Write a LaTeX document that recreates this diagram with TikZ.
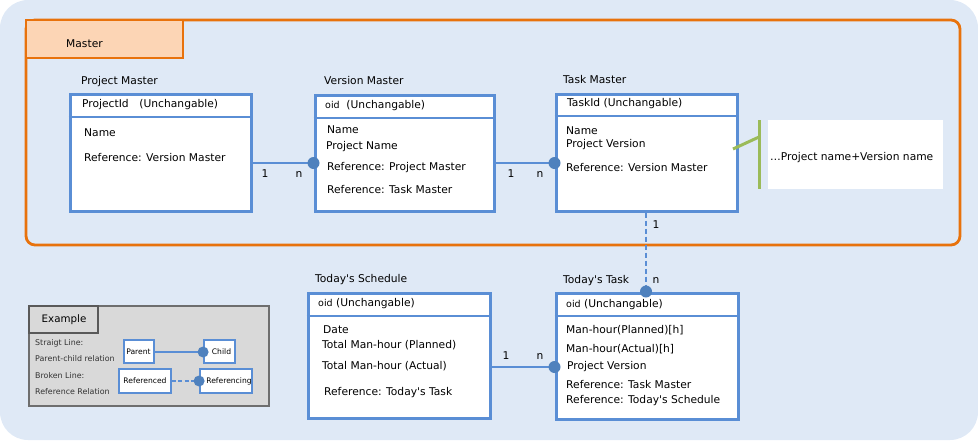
\documentclass[tikz,border=0pt]{standalone}
\usepackage{fontspec}
\setmainfont{DejaVu Sans}
\usetikzlibrary{fit}
\definecolor{bgc}{HTML}{DFE9F6}
\definecolor{bl}{HTML}{5A8ED5}
\definecolor{dotc}{HTML}{4F81BD}
\definecolor{org}{HTML}{E8720C}
\definecolor{peach}{HTML}{FCD5B5}
\definecolor{grn}{HTML}{9BBB59}
\definecolor{gry}{HTML}{D9D9D9}
\definecolor{gbord}{HTML}{6E6E6E}
\newcommand\apos{\textquotesingle}
\tikzset{
  entity/.style={draw=bl, fill=white, line width=3pt, inner sep=0pt},
  divline/.style={draw=bl, line width=2.8pt},
  rel/.style={draw=bl, line width=2.2pt},
  refrel/.style={draw=bl, line width=2.2pt, dash pattern=on 5pt off 3pt},
  reldot/.style={circle, fill=dotc, inner sep=0pt, minimum size=12pt},
  txt/.style={anchor=west, inner sep=0pt, font=\fontsize{10.7}{12}\selectfont},
  card/.style={inner sep=0pt, font=\fontsize{10.7}{12}\selectfont},
  small/.style={anchor=west, inner sep=0pt, font=\fontsize{7.9}{9}\selectfont, text=black!80},
  exbox/.style={draw=bl, fill=white, line width=1.8pt, inner sep=0pt},
  extxt/.style={inner sep=0pt, font=\fontsize{7.6}{9}\selectfont}
}
\begin{document}
\begin{tikzpicture}[x=1pt,y=-1pt]
\useasboundingbox (0,0) rectangle (978,440);
\fill[bgc, rounded corners=28pt] (0,0) rectangle (978,440);

% Master frame
\node[draw=org, line width=2.8pt, rounded corners=9pt, fit={(26,20) (960,245)}, inner sep=0pt] (master) {};
\node[draw=org, fill=peach, line width=2.8pt, fit={(26,20) (183,58)}, inner sep=0pt] (mtab) {};
\node[txt] (mtxt) at (66,44) {Master};

% Project Master
\node[txt] (pml) at (81,82) {Project Master};
\node[entity, fit={(70,94) (251,211)}] (pm) {};
\draw[divline] (pm.west |- 0,117) -- (pm.east |- 0,117);
\node[txt] (pm0) at (82,105) {ProjectId\quad(Unchangable)};
\node[txt] (pm1) at (84,133) {Name};
\node[txt] (pm2) at (84,158) {Reference: Version Master};

% Version Master
\node[txt] (vml) at (324,81) {Version Master};
\node[entity, fit={(315,95) (494,211)}] (vm) {};
\draw[divline] (vm.west |- 0,118) -- (vm.east |- 0,118);
\node[txt] (vm0) at (325,106) {{\fontsize{9.5}{10}\selectfont oid}\ \ (Unchangable)};
\node[txt] (vm1) at (327,130) {Name};
\node[txt] (vm2) at (326,147) {Project Name};
\node[txt] (vm3) at (327,168) {Reference: Project Master};
\node[txt] (vm4) at (327,190) {Reference: Task Master};

% Task Master
\node[txt] (tml) at (563,80) {Task Master};
\node[entity, fit={(556,94) (737,211)}] (tm) {};
\draw[divline] (tm.west |- 0,116) -- (tm.east |- 0,116);
\node[txt] (tm0) at (567,104) {TaskId (Unchangable)};
\node[txt] (tm1) at (566,131) {Name};
\node[txt] (tm2) at (566,145) {Project Version};
\node[txt] (tm3) at (566,168) {Reference: Version Master};

% note
\node[fill=white, fit={(768,120) (943,189)}, inner sep=0pt] (note) {};
\node[txt] (notet) at (770,158) {…Project name+Version name};
\coordinate (gtop) at (759,120);
\coordinate (gbot) at (759,189);
\coordinate (gmid) at (759,137);
\coordinate (gend) at (733,149);
\draw[grn, line width=3pt] (gtop) -- (gbot);
\draw[grn, line width=3pt] (gmid) -- (gend);

% Today's Schedule
\node[txt] (tsl) at (315,280) {Today\apos s Schedule};
\node[entity, fit={(308,293) (490,418)}] (ts) {};
\draw[divline] (ts.west |- 0,316) -- (ts.east |- 0,316);
\node[txt] (ts0) at (318,304) {{\fontsize{9.5}{10}\selectfont oid} (Unchangable)};
\node[txt] (ts1) at (323,330) {Date};
\node[txt] (ts2) at (322,345) {Total Man-hour (Planned)};
\node[txt] (ts3) at (322,366) {Total Man-hour (Actual)};
\node[txt] (ts4) at (324,393) {Reference: Today\apos s Task};

% Today's Task
\node[txt] (ttl) at (563,281) {Today\apos s Task};
\node[entity, fit={(556,293) (738,419)}] (tt) {};
\draw[divline] (tt.west |- 0,316) -- (tt.east |- 0,316);
\node[txt] (tt0) at (566,305) {{\fontsize{9.5}{10}\selectfont oid} (Unchangable)};
\node[txt] (tt1) at (566,330) {Man-hour(Planned)[h]};
\node[txt] (tt2) at (566,349) {Man-hour(Actual)[h]};
\node[txt] (tt3) at (567,367) {Project Version};
\node[txt] (tt4) at (566,385) {Reference: Task Master};
\node[txt] (tt5) at (566,401) {Reference: Today\apos s Schedule};

% relations
\draw[rel] (pm.east |- 0,163) -- (vm.west |- 0,163);
\node[reldot] (d1) at (vm.west |- 0,163) {};
\node[card] (c1a) at (265,174) {1};
\node[card] (c1b) at (299,174) {n};

\draw[rel] (vm.east |- 0,163) -- (tm.west |- 0,163);
\node[reldot] (d2) at (tm.west |- 0,163) {};
\node[card] (c2a) at (511,174) {1};
\node[card] (c2b) at (540,174) {n};

\draw[refrel] (tm.south -| 646,0) -- (tt.north -| 646,0);
\node[reldot] (d3) at (tt.north -| 646,0) {};
\node[card] (c3a) at (656,225) {1};
\node[card] (c3b) at (656,280) {n};

\draw[rel] (ts.east |- 0,367) -- (tt.west |- 0,367);
\node[reldot] (d4) at (tt.west |- 0,367) {};
\node[card] (c4a) at (506,356) {1};
\node[card] (c4b) at (540,356) {n};

% Example
\node[draw=gbord, fill=gry, line width=2.2pt, fit={(29,306) (269,406)}, inner sep=0pt] (ex) {};
\node[draw=black!65, fill=gry, line width=2.2pt, fit={(29,306) (98,333)}, inner sep=0pt] (extab) {};
\node[inner sep=0pt, font=\fontsize{10.3}{12}\selectfont] (ext) at (64,320) {Example};
\node[small] (e1) at (35,343) {Straigt Line:};
\node[small] (e2) at (35,359) {Parent-child relation};
\node[small] (e3) at (35,376) {Broken Line:};
\node[small] (e4) at (35,392) {Reference Relation};
\node[exbox, fit={(124,340) (154,363)}] (par) {};
\node[extxt] at ([xshift=-0.5pt]par.center) {Parent};
\node[exbox, fit={(204,340) (235,363)}] (chi) {};
\node[extxt] at ([xshift=2pt]chi.center) {Child};
\draw[draw=bl, line width=1.8pt] (par.east |- 0,352) -- (chi.west |- 0,352);
\node[reldot, minimum size=11pt] (d5) at (chi.west |- 0,352) {};
\node[exbox, fit={(119,369) (171,393)}] (refd) {};
\node[extxt] at (refd.center) {Referenced};
\node[exbox, fit={(200,369) (252,393)}] (refg) {};
\node[extxt] at ([xshift=3pt]refg.center) {Referencing};
\draw[draw=bl, line width=1.8pt, dash pattern=on 4pt off 2.5pt] (refd.east |- 0,381) -- (refg.west |- 0,381);
\node[reldot, minimum size=11pt] (d6) at (refg.west |- 0,381) {};
\end{tikzpicture}
\end{document}
